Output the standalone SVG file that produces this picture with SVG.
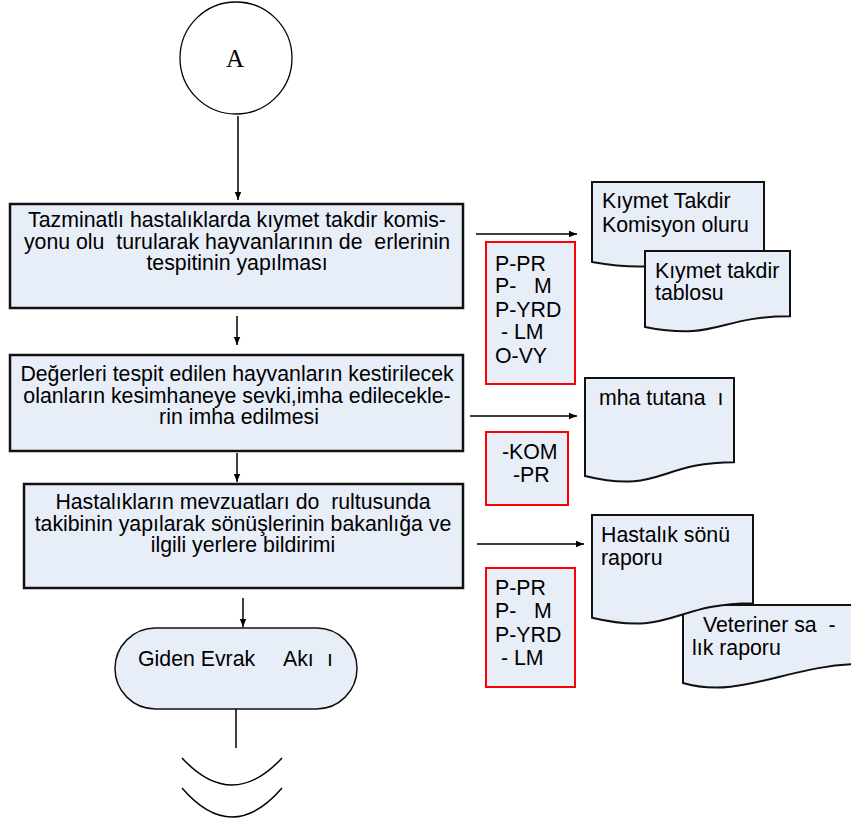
<svg xmlns="http://www.w3.org/2000/svg" width="851" height="826" viewBox="0 0 851 826">
<defs>
<marker id="ah" viewBox="0 0 10 10" refX="10" refY="5" markerWidth="8" markerHeight="8" markerUnits="userSpaceOnUse" orient="auto">
<path d="M0,1 L10,5 L0,9 Z" fill="#000"/>
</marker>
<style>
.t{font-family:"Liberation Sans",Arial,sans-serif;font-size:21.3px;fill:#000;white-space:pre}
.c{text-anchor:middle}
.box{fill:#e8eef7;stroke:#111;stroke-width:2.5}
.doc{fill:#e8eef7;stroke:#111;stroke-width:2}
.red{fill:#e8eef7;stroke:#ff0000;stroke-width:2}
.ln{fill:none;stroke:#000;stroke-width:1.5}
</style>
</defs>
<rect width="851" height="826" fill="#fff"/>

<g id="connectors">
<line class="ln" x1="238" y1="116" x2="238" y2="200" marker-end="url(#ah)"/>
<line class="ln" x1="237" y1="316" x2="237" y2="345" marker-end="url(#ah)"/>
<line class="ln" x1="237" y1="453" x2="237" y2="482" marker-end="url(#ah)"/>
<line class="ln" x1="243" y1="598" x2="243" y2="627" marker-end="url(#ah)"/>
<line class="ln" x1="236" y1="709" x2="236" y2="748"/>
<path class="ln" d="M182,758 Q232,812 282,758"/>
<path class="ln" d="M182,788 Q232,846 282,788"/>
<line class="ln" x1="476" y1="234" x2="577" y2="234" marker-end="url(#ah)"/>
<line class="ln" x1="470" y1="416" x2="577" y2="416" marker-end="url(#ah)"/>
<line class="ln" x1="477" y1="544" x2="584" y2="544" marker-end="url(#ah)"/>
</g>

<g id="start">
<circle cx="236" cy="58" r="56" fill="#fff" stroke="#000" stroke-width="1.3"/>
<text x="235" y="67" font-family="'Liberation Serif','Times New Roman',serif" font-size="25" text-anchor="middle">A</text>
</g>

<g id="step1">
<rect class="box" x="10" y="204" width="453" height="104"/>
<text class="t c" x="237" y="227">Tazminatlı hastalıklarda kıymet takdir komis-</text>
<text class="t c" x="237" y="248.5">yonu olu  turularak hayvanlarının de  erlerinin</text>
<text class="t c" x="237" y="270">tespitinin yapılması</text>
</g>

<g id="step2">
<rect class="box" x="10" y="355" width="453" height="96"/>
<text class="t c" x="237" y="381">Değerleri tespit edilen hayvanların kestirilecek</text>
<text class="t c" x="237" y="402.5">olanların kesimhaneye sevki,imha edilecekle-</text>
<text class="t c" x="239" y="424">rin imha edilmesi</text>
</g>

<g id="step3">
<rect class="box" x="24" y="484" width="439" height="104"/>
<text class="t c" x="243" y="509">Hastalıkların mevzuatları do  rultusunda</text>
<text class="t c" x="243" y="530.5">takibinin yapılarak sönüşlerinin bakanlığa ve</text>
<text class="t c" x="243" y="552">ilgili yerlere bildirimi</text>
</g>

<g id="end">
<rect x="115" y="628" width="242" height="81" rx="40.5" fill="#e8eef7" stroke="#111" stroke-width="1.5"/>
<text class="t" y="666"><tspan x="138">Giden Evrak</tspan><tspan x="283">Akı</tspan><tspan x="327">ı</tspan></text>
</g>

<g id="roles1">
<rect class="red" x="486" y="242" width="89" height="142"/>
<text class="t" x="495" y="271">P-PR</text>
<text class="t" x="495" y="293">P-   M</text>
<text class="t" x="495" y="317">P-YRD</text>
<text class="t" x="495" y="339"> - LM</text>
<text class="t" x="495" y="363">O-VY</text>
</g>

<g id="roles2">
<rect class="red" x="486" y="432" width="82" height="73"/>
<text class="t" x="502" y="459">-KOM</text>
<text class="t" x="513" y="482">-PR</text>
</g>

<g id="roles3">
<rect class="red" x="486" y="568" width="89" height="119"/>
<text class="t" x="495" y="595">P-PR</text>
<text class="t" x="495" y="618">P-   M</text>
<text class="t" x="495" y="642">P-YRD</text>
<text class="t" x="495" y="665"> - LM</text>
</g>

<g id="doc1">
<path class="doc" d="M592,182 H764 V250.7 C678,250.7 678,276.8 592,262 Z"/>
<text class="t" x="602" y="208">Kıymet Takdir</text>
<text class="t" x="602" y="232">Komisyon oluru</text>
</g>

<g id="doc2">
<path class="doc" d="M645,251 H790 V316.3 C717.5,316.3 717.5,341.2 645,327 Z"/>
<text class="t" x="655" y="278">Kıymet takdir</text>
<text class="t" x="655" y="300">tablosu</text>
</g>

<g id="doc3">
<path class="doc" d="M585,378 H734 V462.2 C659.5,462.2 659.5,494.3 585,476 Z"/>
<text class="t" x="599" y="405">mha tutana  ı</text>
</g>

<g id="doc5">
<path class="doc" d="M683,605 H862 V664 C790,664 740,700 683,683 Z"/>
<text class="t" x="703" y="632">Veteriner sa  -</text>
<text class="t" x="692" y="655">lık raporu</text>
</g>

<g id="doc4">
<path class="doc" d="M592,515 H753 V603.2 C672.5,603.2 672.5,636.8 592,617.7 Z"/>
<text class="t" x="601" y="542">Hastalık sönü</text>
<text class="t" x="601" y="565">raporu</text>
</g>
</svg>
